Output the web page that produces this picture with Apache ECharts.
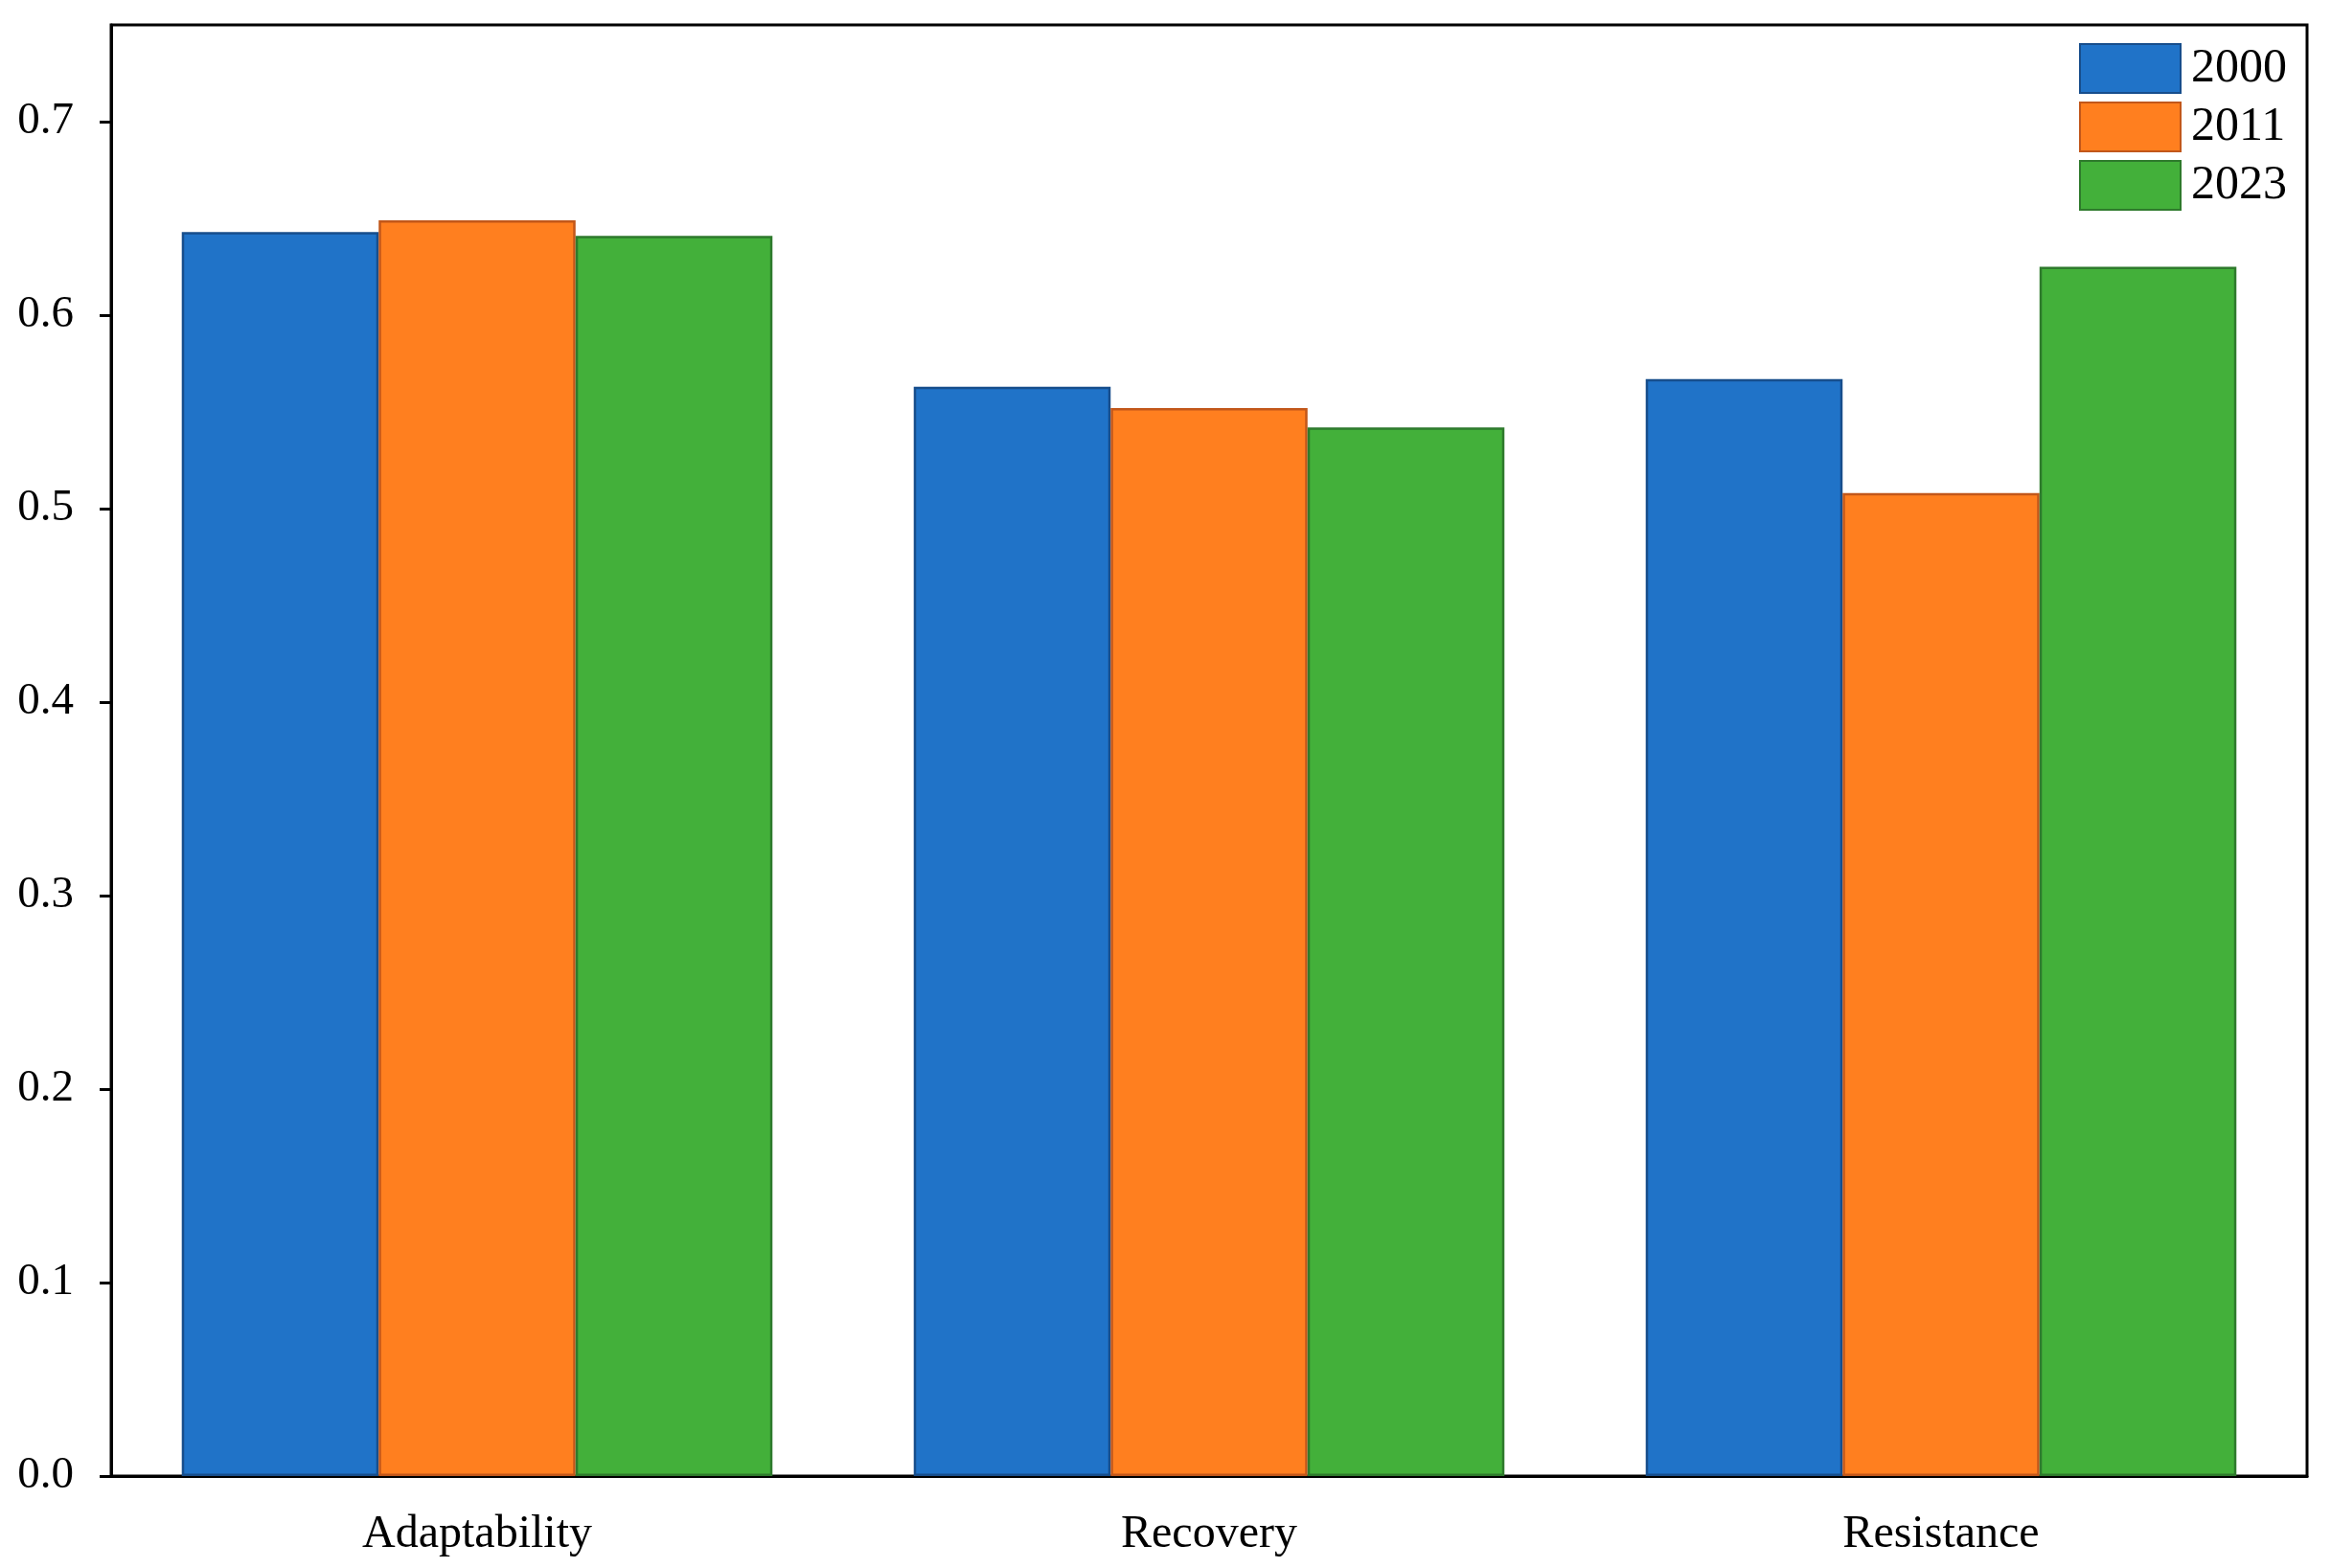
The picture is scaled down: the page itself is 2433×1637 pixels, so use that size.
<!DOCTYPE html>
<html>
<head>
<meta charset="utf-8">
<script src="https://cdn.jsdelivr.net/npm/echarts@6/dist/echarts.min.js"></script>
<style>html,body{margin:0;padding:0;background:#fff;}#c{width:2433px;height:1637px;}</style>
</head>
<body>
<div id="c"></div>
<script>
const categories = ['Adaptability', 'Recovery', 'Resistance'];
const years = ['2000', '2011', '2023'];
const v2000 = [0.643, 0.563, 0.567];
const v2011 = [0.649, 0.552, 0.508];
const v2023 = [0.641, 0.542, 0.625];
const yTicks = [0.0, 0.1, 0.2, 0.3, 0.4, 0.5, 0.6, 0.7];

const fills = ['#2073c8', '#ff7f1f', '#43b03a'];
const borders = ['#174e8c', '#c2571a', '#2e7a2c'];
const seriesVals = [v2000, v2011, v2023];
const font = '"Liberation Serif", "Times New Roman", serif';

const chart = echarts.init(document.getElementById('c'), null, {renderer: 'canvas'});
chart.setOption({
  animation: false,
  backgroundColor: '#fff',
  grid: {left: 116, right: 25, top: 26, bottom: 96, show: true, borderColor: '#000', borderWidth: 3, backgroundColor: 'transparent'},
  legend: {
    data: years, orient: 'vertical', right: 41, top: 40,
    itemWidth: 105, itemHeight: 51, itemGap: 8,
    textStyle: {fontFamily: font, fontSize: 50, lineHeight: 51, color: '#000', padding: [0,0,0,6]},
    icon: 'rect'
  },
  xAxis: {
    type: 'category', data: categories,
    axisLine: {lineStyle: {color: '#000', width: 3}},
    axisTick: {alignWithLabel: true, length: 18, lineStyle: {color: '#000', width: 2}},
    axisLabel: {fontFamily: font, fontSize: 48, color: '#000', margin: 37}
  },
  yAxis: {
    type: 'value', min: 0, max: 0.75, interval: 0.1,
    splitLine: {show: false},
    axisLine: {show: true, lineStyle: {color: '#000', width: 3}},
    axisTick: {show: true, length: 12, lineStyle: {color: '#000', width: 3}, customValues: yTicks},
    axisLabel: {fontFamily: font, fontSize: 47, color: '#000', margin: 39, customValues: yTicks,
      formatter: function (v) { return v.toFixed(1); }}
  },
  series: seriesVals.map((vals, i) => ({
    name: years[i], type: 'bar', data: vals,
    barGap: '0%', barCategoryGap: '19.3%',
    itemStyle: {color: fills[i], borderColor: borders[i], borderWidth: 2.5}
  }))
});
</script>
</body>
</html>
